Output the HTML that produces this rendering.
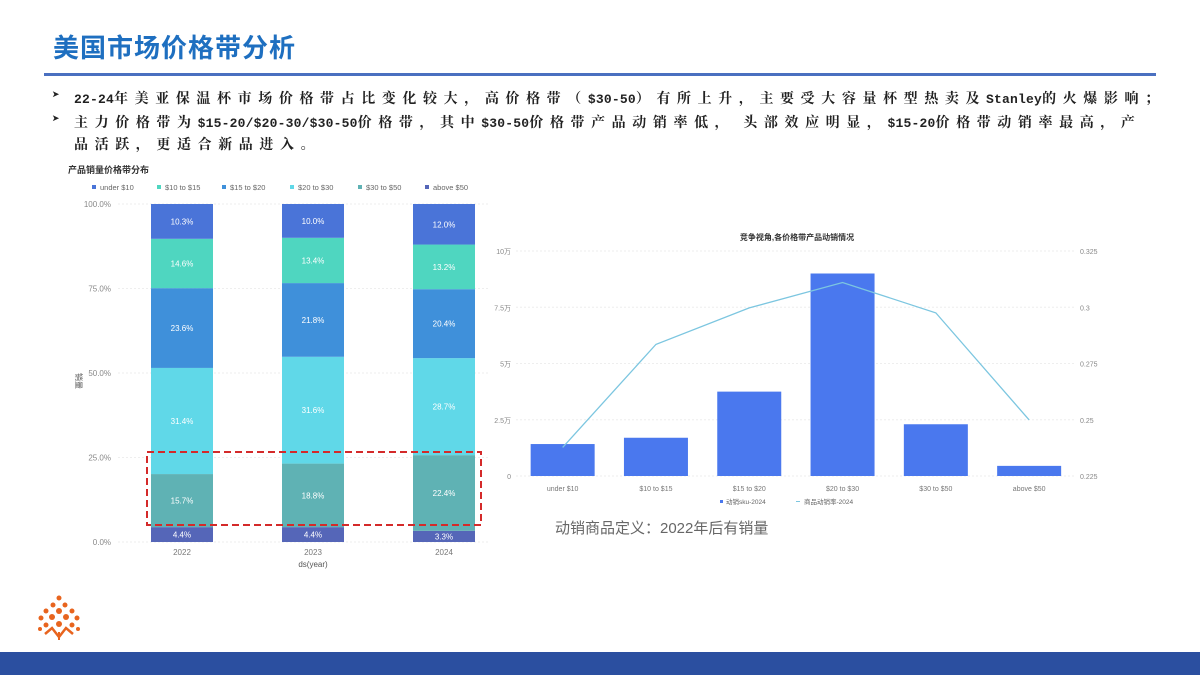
<!DOCTYPE html>
<html><head><meta charset="utf-8">
<style>
body{margin:0;width:1200px;height:675px;overflow:hidden;background:#fff;font-family:"Liberation Sans","Noto Sans CJK SC",sans-serif;position:relative}
.abs{position:absolute}
.title{left:53px;top:28px;font-size:26px;font-weight:bold;color:#1e6fc0;letter-spacing:1px;font-family:"Liberation Sans","Noto Sans CJK SC",sans-serif}
.rule{left:44px;top:73px;width:1112px;height:3px;background:#4a70c0}
.bul{left:52px;font-size:14px;font-weight:bold;color:#222;font-family:"Liberation Mono","Noto Serif CJK SC",monospace;white-space:nowrap;letter-spacing:6.6px}
.bul b{font-size:13px;letter-spacing:0}
.bul span{position:absolute;left:22px}
.bul i{font-style:normal;font-size:13px;letter-spacing:0.2px}
.footer{left:0;top:652px;width:1200px;height:23px;background:#2b4fa0}
</style></head><body>
<div class="abs title">美国市场价格带分析</div>
<div class="abs rule"></div>
<div class="abs bul" style="top:88px"><b>➤</b><span><i>22-24</i>年美亚保温杯市场价格带占比变化较大，高价格带（<i>$30-50</i>）有所上升，主要受大容量杯型热卖及<i>Stanley</i>的火爆影响；</span></div>
<div class="abs bul" style="top:112px"><b>➤</b><span>主力价格带为<i>$15-20/$20-30/$30-50</i>价格带，其中<i>$30-50</i>价格带产品动销率低，<i> </i>头部效应明显，<i>$15-20</i>价格带动销率最高，产</span></div>
<div class="abs bul" style="top:134px"><span>品活跃，更适合新品进入。</span></div>

<svg class="abs" style="left:0;top:0" width="1200" height="675">
<g id="left"></g>
<g id="right"></g>
<rect x="147" y="452" width="334" height="73" fill="none" stroke="#d42a2a" stroke-width="2" stroke-dasharray="7,4"/>
<g fill="#e8641e">
<circle cx="59" cy="598" r="2.5"/><circle cx="53" cy="605" r="2.5"/><circle cx="65" cy="605" r="2.5"/>
<circle cx="46" cy="611" r="2.5"/><circle cx="59" cy="611" r="3"/><circle cx="72" cy="611" r="2.5"/>
<circle cx="41" cy="618" r="2.5"/><circle cx="52" cy="617" r="3"/><circle cx="66" cy="617" r="3"/><circle cx="77" cy="618" r="2.5"/>
<circle cx="46" cy="625" r="2.5"/><circle cx="59" cy="624" r="3"/><circle cx="72" cy="625" r="2.5"/>
<circle cx="40" cy="629" r="2"/><circle cx="78" cy="629" r="2"/>
<path d="M45 634 L52 628 L59 637 L66 628 L73 634" stroke="#e8641e" stroke-width="2.5" fill="none"/>
<rect x="58" y="632" width="2" height="8"/>
</g>
</svg>
<div class="abs footer"></div>

<script>
const NS='http://www.w3.org/2000/svg';
function mk(p,t,a,txt){const e=document.createElementNS(NS,t);for(const k in a)e.setAttribute(k,a[k]);if(txt!==undefined)e.textContent=txt;p.appendChild(e);return e;}

// ---- Left stacked chart data ----
const years=['2022','2023','2024'];
const bandNames=['under $10','$10 to $15','$15 to $20','$20 to $30','$30 to $50','above $50'];
const underTen=[10.3,10.0,12.0];
const tenToFifteen=[14.6,13.4,13.2];
const fifteenToTwenty=[23.6,21.8,20.4];
const twentyToThirty=[31.4,31.6,28.7];
const thirtyToFifty=[15.7,18.8,22.4];
const aboveFifty=[4.4,4.4,3.3];
const yTicksLeft=['0.0%','25.0%','50.0%','75.0%','100.0%'];

// ---- Right combo chart data ----
const priceBands=['under $10','$10 to $15','$15 to $20','$20 to $30','$30 to $50','above $50'];
const activeSku=[1.42,1.7,3.75,9.0,2.3,0.45];
const sellRate=[0.2377,0.2835,0.2997,0.311,0.2975,0.2499];
const leftTicksR=['0','2.5万','5万','7.5万','10万'];
const leftTickVals=[0,2.5,5,7.5,10];
const rightTickVals=[0.225,0.25,0.275,0.3,0.325];

(function(){
const g=document.getElementById('left');
const colors=['#4a74d8','#4fd6c0','#3f90da','#60d8e8','#5fb2b4','#5566b8'];
const series=[underTen,tenToFifteen,fifteenToTwenty,twentyToThirty,thirtyToFifty,aboveFifty];
const y0=542,y1=204;const ys=v=>y0-(y0-y1)*v/100;
const xc=i=>182+i*131;const bw=62;
let t=mk(g,'text',{x:68,y:173,'font-size':9,'font-weight':'bold',fill:'#333'},'产品销量价格带分布');

const lx=[92,157,222,290,358,425];
bandNames.forEach((n,i)=>{
 const r=mk(g,'rect',{x:lx[i],y:185,width:4,height:4,fill:colors[i]});
 
 const tt=mk(g,'text',{x:lx[i]+8,y:190,'font-size':7.5,fill:'#666'},n);
 
});
yTicksLeft.forEach((l,i)=>{
 const y=ys(i*25);
 const ln=mk(g,'line',{x1:118,x2:490,y1:y,y2:y,stroke:'#eee','stroke-dasharray':'2,2'});
 
 const tx=mk(g,'text',{x:111,y:y+3,'font-size':8,fill:'#888','text-anchor':'end'},l);
 
});
const ya=mk(g,'text',{x:76,y:373,'font-size':8,fill:'#555',transform:'rotate(90 76 373)'},'销量');

years.forEach((yr,i)=>{
 let acc=0;
 for(let s=series.length-1;s>=0;s--){
  const v=series[s][i];const top=ys(acc+v),bot=ys(acc);
  const r=mk(g,'rect',{x:xc(i)-bw/2,y:top,width:bw,height:bot-top,fill:colors[s]});
  
  const tx=mk(g,'text',{x:xc(i),y:(top+bot)/2+3,'font-size':8,fill:'#fff','text-anchor':'middle'},v.toFixed(1)+'%');
  
  acc+=v;
 }
 const xl=mk(g,'text',{x:xc(i),y:555,'font-size':8,fill:'#777','text-anchor':'middle'},yr);
 
});
const xa=mk(g,'text',{x:313,y:567,'font-size':8,fill:'#555','text-anchor':'middle'},'ds(year)');

})();

(function(){
const g=document.getElementById('right');
const y0=476,y1=251;const ysL=v=>y0-(y0-y1)*v/10;const ysR=v=>y0-(y0-y1)*(v-0.225)/0.1;
const bx0=516,step=93.3;const xc=i=>bx0+step*(i+0.5);const bw=64;
const tt=mk(g,'text',{x:797,y:240,'font-size':8,'font-weight':'bold',fill:'#333','text-anchor':'middle'},'竞争视角,各价格带产品动销情况');

leftTickVals.forEach((v,i)=>{
 const y=ysL(v);
 const ln=mk(g,'line',{x1:516,x2:1076,y1:y,y2:y,stroke:'#eee','stroke-dasharray':'2,2'});
 
 const tx=mk(g,'text',{x:511,y:y+3,'font-size':7,fill:'#888','text-anchor':'end'},leftTicksR[i]);
 
});
rightTickVals.forEach(v=>{
 const tx=mk(g,'text',{x:1080,y:ysR(v)+3,'font-size':7,fill:'#888'},String(v));
 
});
priceBands.forEach((b,i)=>{
 const top=ysL(activeSku[i]);
 const r=mk(g,'rect',{x:xc(i)-bw/2,y:top,width:bw,height:y0-top,fill:'#4a78ee'});
 
 const tx=mk(g,'text',{x:xc(i),y:491,'font-size':7,fill:'#777','text-anchor':'middle'},b);
 
});
const pts=sellRate.map((v,i)=>xc(i)+','+ysR(v)).join(' ');
const pl=mk(g,'polyline',{points:pts,fill:'none',stroke:'#7cc6e0','stroke-width':1.3});

const s1=mk(g,'rect',{x:720,y:500,width:3,height:3,fill:'#4a78ee'});

const l1=mk(g,'text',{x:726,y:504,'font-size':6.5,fill:'#666'},'动销sku-2024');

const s2=mk(g,'line',{x1:796,x2:800,y1:501.5,y2:501.5,stroke:'#7cc6e0'});

const l2=mk(g,'text',{x:804,y:504,'font-size':6.5,fill:'#666'},'商品动销率-2024');

const note=mk(g,'text',{x:555,y:533,'font-size':15,fill:'#666'},'动销商品定义：2022年后有销量');

})();
</script>
</body></html>
